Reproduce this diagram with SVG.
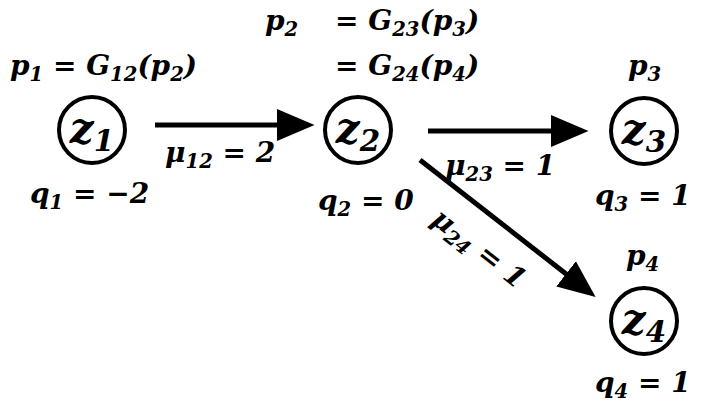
<svg xmlns="http://www.w3.org/2000/svg" width="706" height="408" viewBox="0 0 706 408">
<style>
text{font-family:"DejaVu Serif","Liberation Serif",serif;font-weight:bold;font-style:italic;fill:#000}
.l{font-size:28px}
.z{font-size:42px;text-anchor:middle}
.s{font-size:0.7em}
circle{fill:#fff;stroke:#000;stroke-width:4}
.c line{stroke:#000;stroke-width:5}
</style>
<defs><marker id="a" markerWidth="8" markerHeight="8" refX="1" refY="4" orient="auto" markerUnits="strokeWidth"><path d="M0,0.8 L7.5,4 L0,7.2 z" fill="#000"/></marker></defs>
<rect width="706" height="408" fill="#fff"/>
<g class="c" id="connectors">
<line x1="155" y1="125" x2="282" y2="125" marker-end="url(#a)"/>
<line x1="428" y1="131" x2="556" y2="131" marker-end="url(#a)"/>
<line x1="420" y1="160" x2="570" y2="277" marker-end="url(#a)"/>
</g>
<g id="z1"><circle cx="92" cy="130" r="33"/><text class="z" x="92" y="143">z<tspan class="s" dy="8">1</tspan></text></g>
<g id="z2"><circle cx="358" cy="130" r="33"/><text class="z" x="358" y="143">z<tspan class="s" dy="8">2</tspan></text></g>
<g id="z3"><circle cx="644" cy="131" r="33"/><text class="z" x="644" y="144">z<tspan class="s" dy="8">3</tspan></text></g>
<g id="z4"><circle cx="644" cy="321" r="33"/><text class="z" x="644" y="334">z<tspan class="s" dy="8">4</tspan></text></g>
<g id="labels" class="l">
<text class="l" x="10" y="75">p<tspan class="s" dy="6">1</tspan><tspan dy="-6"> = G</tspan><tspan class="s" dy="6">12</tspan><tspan dy="-6">(p</tspan><tspan class="s" dy="6">2</tspan><tspan dy="-6">)</tspan></text>
<text class="l" x="265" y="30">p<tspan class="s" dy="6">2</tspan></text>
<text class="l" x="335" y="30">= G<tspan class="s" dy="6">23</tspan><tspan dy="-6">(p</tspan><tspan class="s" dy="6">3</tspan><tspan dy="-6">)</tspan></text>
<text class="l" x="335" y="75">= G<tspan class="s" dy="6">24</tspan><tspan dy="-6">(p</tspan><tspan class="s" dy="6">4</tspan><tspan dy="-6">)</tspan></text>
<text class="l" x="628" y="75">p<tspan class="s" dy="6">3</tspan></text>
<text class="l" x="626" y="265">p<tspan class="s" dy="6">4</tspan></text>
<text class="l" x="165" y="162">μ<tspan class="s" dy="6">12</tspan><tspan dy="-6"> = 2</tspan></text>
<text class="l" x="445" y="175">μ<tspan class="s" dy="6">23</tspan><tspan dy="-6"> = 1</tspan></text>
<text class="l" transform="translate(430,222) rotate(38)">μ<tspan class="s" dy="6">24</tspan><tspan dy="-6"> = 1</tspan></text>
<text class="l" x="30" y="203">q<tspan class="s" dy="6">1</tspan><tspan dy="-6"> = −2</tspan></text>
<text class="l" x="318" y="210">q<tspan class="s" dy="6">2</tspan><tspan dy="-6"> = 0</tspan></text>
<text class="l" x="595" y="205">q<tspan class="s" dy="6">3</tspan><tspan dy="-6"> = 1</tspan></text>
<text class="l" x="595" y="392">q<tspan class="s" dy="6">4</tspan><tspan dy="-6"> = 1</tspan></text>
</g>
</svg>
